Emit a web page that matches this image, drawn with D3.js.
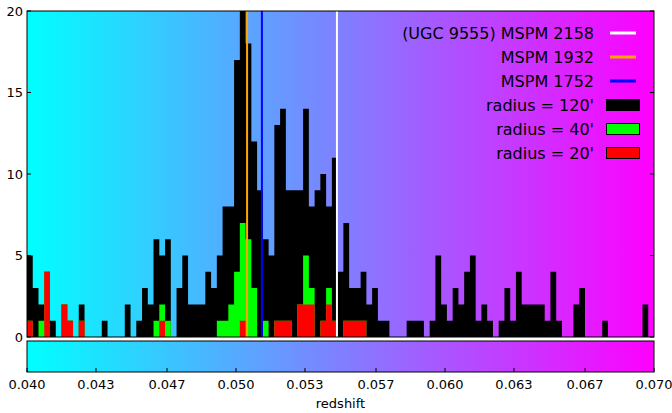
<!DOCTYPE html>
<html lang="en">
    <head>
        <meta charset="utf-8">
        <title>D3</title>
        <script type="text/javascript" src="https://cdnjs.cloudflare.com/ajax/libs/d3/7.8.5/d3.min.js"></script>
        <style type="text/css">
            body { margin: 0; background: #fff; }
            text { font-family: "DejaVu Sans", sans-serif; fill: #000; }
        </style>
    </head>
    <body>
        <script type="text/javascript">
            // histogram bins: 109 equal bins over the redshift range
            var zRange = [0.040, 0.070];
            var nBins = 109;

            var counts120 = [5,3,2,4,1,0,2,1,0,2, 0,0,0,1,0,0,0,2,0,1,
                             3,2,6,5,6,0,3,5,2,2, 2,4,3,5,8,8,17,20,18,12,
                             9,6,5,13,14,9,9,9,14,8, 9,10,8,11,4,7,3,3,4,2,
                             3,1,1,0,0,0,1,1,1,0, 1,5,2,1,3,2,4,5,1,2,
                             1,0,1,3,1,4,2,2,2,2, 1,4,1,0,0,2,3,0,0,0,
                             1,0,0,0,0,0,0,2,0];
            var counts40 = [1,0,1,4,0,0,2,1,0,1, 0,0,0,0,0,0,0,0,0,0,
                            0,0,1,2,1,0,0,0,0,0, 0,0,0,1,1,2,4,7,6,3,
                            0,1,0,1,1,1,0,2,5,3, 0,1,3,1,0,1,1,1,1,0,
                            0,0,0,0,0,0,0,0,0,0, 0,0,0,0,0,0,0,0,0,0,
                            0,0,0,0,0,0,0,0,0,0, 0,0,0,0,0,0,0,0,0,0,
                            0,0,0,0,0,0,0,0,0];
            var counts20 = [1,0,0,4,0,0,2,1,0,1, 0,0,0,0,0,0,0,0,0,0,
                            0,0,0,1,0,0,0,0,0,0, 0,0,0,0,0,0,0,1,0,0,
                            0,0,0,1,1,1,0,2,2,2, 0,1,2,1,0,1,1,1,1,0,
                            0,0,0,0,0,0,0,0,0,0, 0,0,0,0,0,0,0,0,0,0,
                            0,0,0,0,0,0,0,0,0,0, 0,0,0,0,0,0,0,0,0,0,
                            0,0,0,0,0,0,0,0,0];

            var lineNames = ["(UGC 9555) MSPM 2158", "MSPM 1932", "MSPM 1752"];
            var lineZ = [0.05483, 0.05053, 0.05124];
            var lineColors = ["#ffffff", "#ffa500", "#0000ff"];

            var histNames = ["radius = 120'", "radius = 40'", "radius = 20'"];
            var histColors = ["#000000", "#00ff00", "#ff0000"];

            var yTicks = [0, 5, 10, 15, 20];
            var cbTicks = [0.040, 0.0433, 0.0467, 0.050, 0.0533, 0.0567, 0.060, 0.0633, 0.0667, 0.070];
            var cbLabels = ["0.040", "0.043", "0.047", "0.050", "0.053", "0.057", "0.060", "0.063", "0.067", "0.070"];

            var w = 672;
            var h = 413;
            var pL = 27, pR = 654, pT = 11, pB = 337;
            var cbTop = 341, cbBottom = 372;

            var x = d3.scaleLinear().domain(zRange).range([pL, pR]);
            var y = d3.scaleLinear().domain([0, 20]).range([pB, pT]);

            var edges = d3.range(nBins + 1).map(function(i) {
                return zRange[0] + i * (zRange[1] - zRange[0]) / nBins;
            });

            var svg = d3.select("body")
                        .append("svg")
                        .attr("width", w)
                        .attr("height", h);

            var defs = svg.append("defs");
            var grad = defs.append("linearGradient")
                .attr("id", "cool")
                .attr("x1", "0%").attr("x2", "100%")
                .attr("y1", "0%").attr("y2", "0%");
            grad.append("stop").attr("offset", "0%").attr("stop-color", "#00ffff");
            grad.append("stop").attr("offset", "100%").attr("stop-color", "#ff00ff");

            defs.append("clipPath").attr("id", "plotclip")
                .append("rect")
                .attr("x", pL).attr("y", pT)
                .attr("width", pR - pL).attr("height", pB - pT);

            // plot background
            svg.append("rect")
               .attr("x", pL).attr("y", pT)
               .attr("width", pR - pL).attr("height", pB - pT)
               .attr("fill", "url(#cool)");

            var plot = svg.append("g").attr("clip-path", "url(#plotclip)");

            var area = d3.area()
                .curve(d3.curveStepAfter)
                .x(function(d) { return x(d.z); })
                .y0(y(0))
                .y1(function(d) { return y(d.n); });

            function toSteps(counts) {
                var pts = counts.map(function(n, i) { return { z: edges[i], n: n }; });
                pts.push({ z: edges[nBins], n: counts[nBins - 1] });
                return pts;
            }

            var series = [counts120, counts40, counts20];
            plot.selectAll("path.hist")
                .data(series)
                .enter()
                .append("path")
                .attr("class", "hist")
                .attr("d", function(d) { return area(toSteps(d)); })
                .attr("fill", function(d, i) { return histColors[i]; });

            plot.selectAll("line.zline")
                .data(lineZ)
                .enter()
                .append("line")
                .attr("class", "zline")
                .attr("x1", function(d) { return x(d); })
                .attr("x2", function(d) { return x(d); })
                .attr("y1", pT)
                .attr("y2", pB)
                .attr("stroke", function(d, i) { return lineColors[i]; })
                .attr("stroke-width", 2);

            // y ticks, inside on both sides
            svg.selectAll("line.ytl")
               .data(yTicks)
               .enter()
               .append("line")
               .attr("class", "ytl")
               .attr("x1", pL).attr("x2", pL + 4)
               .attr("y1", function(d) { return y(d); })
               .attr("y2", function(d) { return y(d); })
               .attr("stroke", "#000");
            svg.selectAll("line.ytr")
               .data(yTicks)
               .enter()
               .append("line")
               .attr("class", "ytr")
               .attr("x1", pR - 4).attr("x2", pR)
               .attr("y1", function(d) { return y(d); })
               .attr("y2", function(d) { return y(d); })
               .attr("stroke", "#000");
            svg.selectAll("text.ylab")
               .data(yTicks)
               .enter()
               .append("text")
               .attr("class", "ylab")
               .attr("x", 23)
               .attr("y", function(d) { return y(d); })
               .attr("dy", "0.36em")
               .attr("text-anchor", "end")
               .attr("font-size", "13px")
               .text(function(d) { return d; });

            svg.append("rect")
               .attr("x", pL).attr("y", pT)
               .attr("width", pR - pL).attr("height", pB - pT)
               .attr("fill", "none")
               .attr("stroke", "#000");

            // legend
            var legend = svg.append("g");
            var rows = lineNames.concat(histNames);
            legend.selectAll("text")
                  .data(rows)
                  .enter()
                  .append("text")
                  .attr("x", 594)
                  .attr("y", function(d, i) { return 33 + i * 24; })
                  .attr("dy", "0.36em")
                  .attr("text-anchor", "end")
                  .attr("font-size", "16px")
                  .text(function(d) { return d; });
            legend.selectAll("line")
                  .data(lineColors)
                  .enter()
                  .append("line")
                  .attr("x1", 610).attr("x2", 636)
                  .attr("y1", function(d, i) { return 33 + i * 24; })
                  .attr("y2", function(d, i) { return 33 + i * 24; })
                  .attr("stroke", function(d) { return d; })
                  .attr("stroke-width", 3);
            legend.selectAll("rect")
                  .data(histColors)
                  .enter()
                  .append("rect")
                  .attr("x", 606.5)
                  .attr("y", function(d, i) { return 33 + (i + 3) * 24 - 5.5; })
                  .attr("width", 33)
                  .attr("height", 11)
                  .attr("fill", function(d) { return d; })
                  .attr("stroke", "#000");

            // colorbar
            svg.append("rect")
               .attr("x", pL).attr("y", cbTop)
               .attr("width", pR - pL).attr("height", cbBottom - cbTop)
               .attr("fill", "url(#cool)")
               .attr("stroke", "#000");

            svg.selectAll("line.cbt")
               .data(cbTicks)
               .enter()
               .append("line")
               .attr("class", "cbt")
               .attr("x1", function(d) { return x(d); })
               .attr("x2", function(d) { return x(d); })
               .attr("y1", cbBottom - 4)
               .attr("y2", cbBottom)
               .attr("stroke", "#000");

            svg.selectAll("text.cbl")
               .data(cbTicks)
               .enter()
               .append("text")
               .attr("class", "cbl")
               .attr("x", function(d) { return x(d); })
               .attr("y", 384)
               .attr("dy", "0.36em")
               .attr("text-anchor", "middle")
               .attr("font-size", "13px")
               .text(function(d, i) { return cbLabels[i]; });

            svg.append("text")
               .attr("x", (pL + pR) / 2)
               .attr("y", 403)
               .attr("dy", "0.36em")
               .attr("text-anchor", "middle")
               .attr("font-size", "13px")
               .text("redshift");
        </script>
    </body>
</html>
